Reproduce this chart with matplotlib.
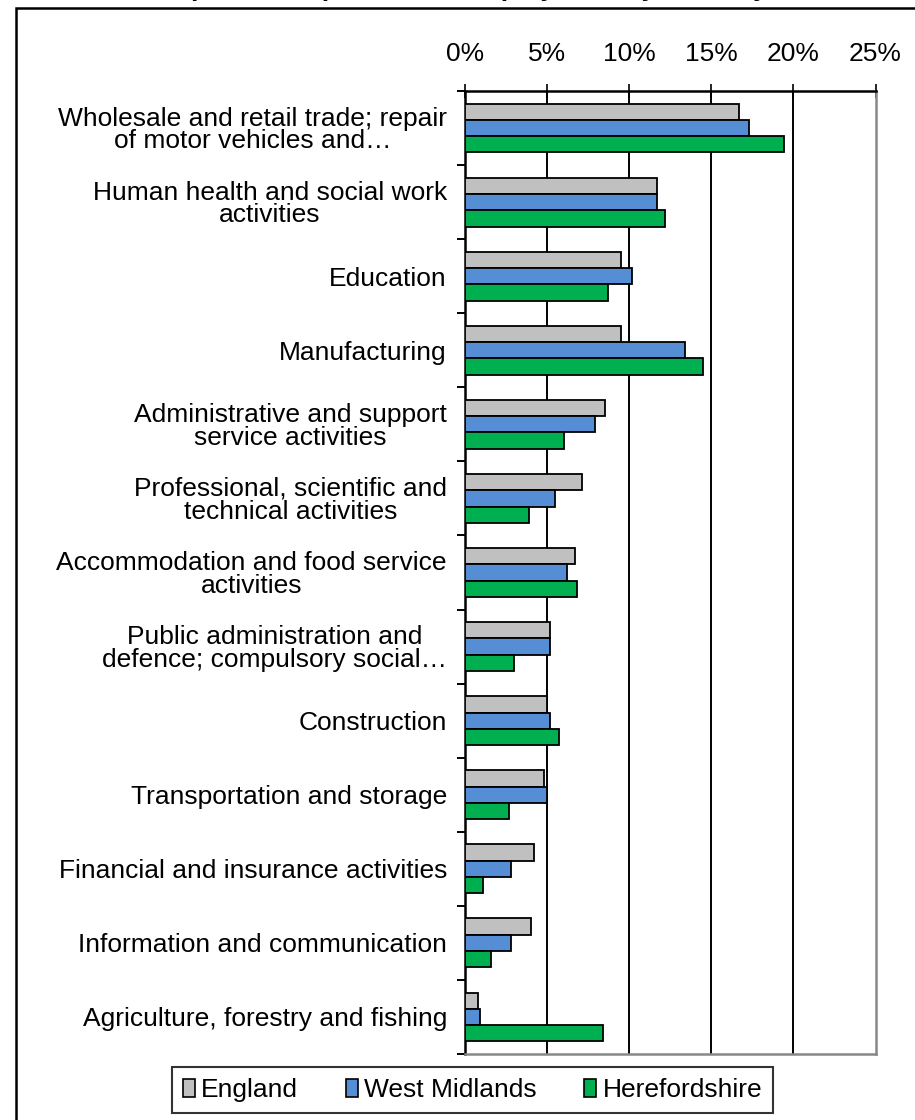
import numpy as np
import matplotlib.pyplot as plt
from matplotlib.patches import Rectangle, Patch

plt.rcParams['font.family'] = ['Liberation Sans', 'DejaVu Sans']

industries = [
    'Wholesale and retail trade; repair\nof motor vehicles and\u2026',
    'Human health and social work\nactivities',
    'Education',
    'Manufacturing',
    'Administrative and support\nservice activities',
    'Professional, scientific and\ntechnical activities',
    'Accommodation and food service\nactivities',
    'Public administration and\ndefence; compulsory social\u2026',
    'Construction',
    'Transportation and storage',
    'Financial and insurance activities',
    'Information and communication',
    'Agriculture, forestry and fishing',
]
england = [16.7, 11.7, 9.5, 9.5, 8.5, 7.1, 6.7, 5.2, 5.0, 4.8, 4.2, 4.0, 0.8]
west_midlands = [17.3, 11.7, 10.2, 13.4, 7.9, 5.5, 6.2, 5.2, 5.2, 5.0, 2.8, 2.8, 0.9]
herefordshire = [19.4, 12.2, 8.7, 14.5, 6.0, 3.9, 6.8, 3.0, 5.7, 2.7, 1.1, 1.6, 8.4]
series_names = ['England', 'West Midlands', 'Herefordshire']
colors = ['#C0C0C0', '#558ED5', '#00B050']
xticks = [0, 5, 10, 15, 20, 25]

FS = 19

fig = plt.figure(figsize=(9.15, 11.2), dpi=100)

# outer chart border (runs off the right and bottom edges)
fig.patches.append(Rectangle((16 / 915, -0.05), 1.0, 1 - 8 / 1120 + 0.05,
                             transform=fig.transFigure, fill=False,
                             edgecolor='black', linewidth=1.8))

# title sits above the visible area; only descenders show
fig.text(0.5, 1 + 4 / 1120, 'Proportion of persons in employment by industry',
         ha='center', va='baseline', fontsize=FS, fontweight='bold')

ax = fig.add_axes([465 / 915, 1 - 1054 / 1120, (875.5 - 465) / 915, (1054 - 91) / 1120])

y = np.arange(len(industries))
h = 0.22
for i, (vals, col) in enumerate(zip([england, west_midlands, herefordshire], colors)):
    ax.barh(y + (i - 1) * h, vals, height=h, color=col, edgecolor='black',
            linewidth=1.3, zorder=3)

ax.set_xlim(0, 25)
ax.set_ylim(len(industries) - 0.5, -0.5)

ax.xaxis.tick_top()
ax.set_xticks(xticks)
ax.set_xticklabels([f'{t}%' for t in xticks], fontsize=FS)
ax.tick_params(axis='x', direction='inout', length=10, width=1.2, pad=13)
for t in xticks[1:-1]:
    ax.axvline(t, color='black', linewidth=1.4, zorder=1)

ax.set_yticks(y)
ax.set_yticklabels(industries, fontsize=FS, multialignment='center', linespacing=0.93)
ax.tick_params(axis='y', which='major', length=0, pad=13)
ax.set_yticks(np.arange(len(industries) + 1) - 0.5, minor=True)
ax.tick_params(axis='y', which='minor', direction='out', length=6, width=1.4)

for side in ['top', 'left']:
    ax.spines[side].set_color('black')
    ax.spines[side].set_linewidth(1.8)
for side in ['bottom', 'right']:
    ax.spines[side].set_color('#888888')
    ax.spines[side].set_linewidth(1.8)

handles = [Patch(facecolor=c, edgecolor='black', linewidth=1.2) for c in colors]
leg = fig.legend(handles, series_names, loc='center',
                 bbox_to_anchor=(472.5 / 915, 1 - 1090 / 1120), ncol=3, fontsize=FS,
                 frameon=True, fancybox=False, edgecolor='black',
                 handlelength=0.45, handleheight=0.7, handletextpad=0.25,
                 columnspacing=1.8, borderpad=0.42)
leg.get_frame().set_linewidth(1.5)

fig.savefig('out.png', dpi=100)
